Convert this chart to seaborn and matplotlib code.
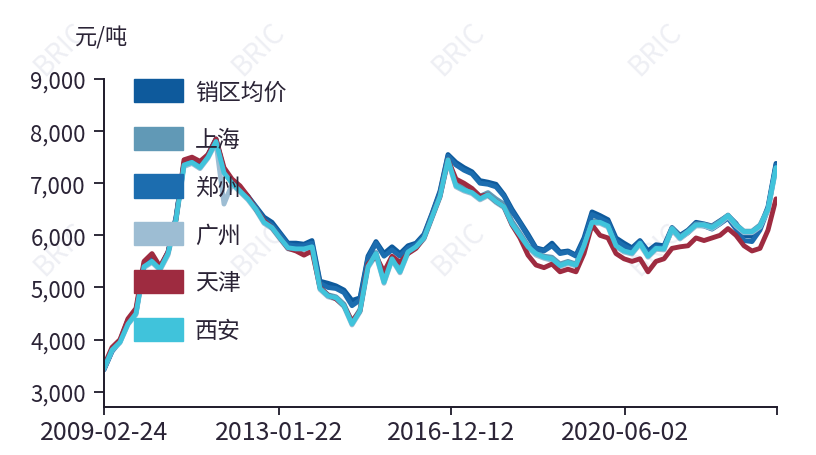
import numpy as np
import pandas as pd
import matplotlib
matplotlib.use("Agg")
import matplotlib.pyplot as plt
from matplotlib.patches import Patch
import seaborn as sns

# ---------------- data ----------------
series_names = ["销区均价", "上海", "郑州", "广州", "天津", "西安"]
tick_labels = ["2009-02-24", "2013-01-22", "2016-12-12", "2020-06-02", ""]
tick_positions = [0, 21.875, 43.375, 65.125, 84.125]

avg_sales = [3430, 3780, 3980, 4380, 4550, 5450, 5550, 5380, 5680, 6350,
             7400, 7450, 7350, 7550, 7850, 7250, 7050, 6900, 6750, 6550,
             6350, 6250, 6050, 5850, 5850, 5830, 5900, 5120, 5080, 5030,
             4950, 4750, 4800, 5600, 5880, 5650, 5780, 5650, 5800, 5850,
             6020, 6420, 6850, 7550, 7400, 7300, 7220, 7050, 7020, 6980,
             6780, 6500, 6260, 6020, 5760, 5720, 5850, 5680, 5700, 5620,
             5950, 6450, 6380, 6300, 5950, 5850, 5760, 5900, 5700, 5820,
             5800, 6150, 6000, 6100, 6250, 6220, 6180, 6280, 6380, 6230,
             6000, 5980, 6150, 6550, 7380]
shanghai = [3460, 3820, 3970, 4320, 4520, 5420, 5520, 5370, 5660, 6320,
            7370, 7420, 7320, 7520, 7820, 7220, 7020, 6870, 6720, 6520,
            6270, 6170, 5970, 5780, 5760, 5760, 5800, 5000, 4860, 4820,
            4680, 4330, 4580, 5430, 5670, 5150, 5580, 5350, 5700, 5800,
            5970, 6370, 6770, 7480, 7000, 6920, 6880, 6750, 6820, 6700,
            6600, 6270, 6040, 5800, 5660, 5600, 5580, 5450, 5500, 5450,
            5820, 6280, 6280, 6200, 5820, 5720, 5680, 5870, 5620, 5770,
            5760, 6140, 5970, 6080, 6220, 6210, 6170, 6270, 6390, 6210,
            6080, 6080, 6200, 6520, 7320]
zhengzhou = [3420, 3770, 3960, 4350, 4520, 5420, 5520, 5360, 5660, 6330,
             7380, 7420, 7330, 7520, 7830, 7230, 7020, 6880, 6730, 6530,
             6300, 6200, 6020, 5820, 5800, 5800, 5850, 5080, 5000, 4980,
             4900, 4650, 4760, 5560, 5850, 5600, 5720, 5600, 5760, 5820,
             5990, 6400, 6820, 7520, 7350, 7250, 7180, 7000, 6980, 6930,
             6750, 6460, 6230, 5980, 5740, 5700, 5800, 5650, 5680, 5600,
             5900, 6400, 6330, 6250, 5900, 5800, 5720, 5880, 5650, 5780,
             5760, 6100, 5950, 6050, 6200, 6180, 6120, 6220, 6330, 6120,
             5900, 5880, 6100, 6500, 7350]
guangzhou = [3440, 3790, 3940, 4290, 4480, 5380, 5480, 5330, 5620, 6280,
             7320, 7380, 7280, 7480, 7780, 6600, 6980, 6830, 6680, 6480,
             6230, 6130, 5930, 5740, 5720, 5720, 5760, 4960, 4820, 4780,
             4630, 4280, 4530, 5380, 5620, 5080, 5530, 5280, 5660, 5760,
             5930, 6330, 6730, 7420, 6930, 6850, 6800, 6680, 6760, 6630,
             6530, 6200, 5980, 5760, 5620, 5560, 5520, 5400, 5460, 5410,
             5780, 6230, 6230, 6160, 5780, 5680, 5640, 5830, 5580, 5730,
             5720, 6110, 5930, 6050, 6180, 6180, 6130, 6230, 6360, 6180,
             6050, 6050, 6160, 6480, 7280]
tianjin = [3500, 3850, 4000, 4400, 4600, 5500, 5650, 5400, 5680, 6300,
           7450, 7500, 7420, 7550, 7850, 7300, 7080, 6950, 6750, 6500,
           6280, 6150, 5950, 5750, 5700, 5620, 5700, 5000, 4850, 4780,
           4650, 4350, 4550, 5450, 5600, 5300, 5600, 5480, 5650, 5750,
           5950, 6350, 6750, 7450, 7080, 7000, 6900, 6750, 6780, 6650,
           6550, 6200, 5950, 5620, 5430, 5380, 5450, 5300, 5350, 5300,
           5650, 6200, 6000, 5950, 5650, 5550, 5500, 5550, 5300, 5500,
           5550, 5750, 5780, 5800, 5950, 5900, 5950, 6000, 6130, 6000,
           5800, 5700, 5750, 6100, 6700]
xian = [3450, 3800, 3950, 4300, 4500, 5400, 5500, 5350, 5650, 6300,
        7350, 7400, 7300, 7500, 7800, 7200, 7000, 6850, 6700, 6500,
        6250, 6150, 5950, 5760, 5740, 5740, 5780, 4980, 4840, 4800,
        4650, 4300, 4550, 5400, 5650, 5100, 5550, 5300, 5680, 5780,
        5950, 6350, 6750, 7450, 6950, 6870, 6820, 6700, 6780, 6650,
        6550, 6220, 6000, 5780, 5650, 5580, 5550, 5420, 5480, 5430,
        5800, 6250, 6250, 6180, 5800, 5700, 5660, 5850, 5600, 5750,
        5740, 6130, 5950, 6070, 6200, 6200, 6150, 6250, 6380, 6200,
        6070, 6070, 6180, 6500, 7300]

colors = ["#0E5A9C", "#6199B6", "#1C6DAF", "#9DBDD3", "#9E2B40", "#40C3DB"]

values = [avg_sales, shanghai, zhengzhou, guangzhou, tianjin, xian]
frames = []
for name, vals in zip(series_names, values):
    frames.append(pd.DataFrame({"idx": np.arange(len(vals)), "price": vals, "series": name}))
df = pd.concat(frames, ignore_index=True)

# ---------------- style ----------------
sns.set_theme(style="white")
plt.rcParams["font.family"] = ["Noto Sans CJK SC", "DejaVu Sans"]
text_color = "#2B2436"

W, H = 816, 456
fig = plt.figure(figsize=(W / 100, H / 100), dpi=100)
ax = fig.add_axes([104 / W, 1 - 408 / H, (777 - 104) / W, (408 - 80) / H])
ax.set_facecolor("none")

# faint watermark behind everything
for wx in [60, 258, 458, 655]:
    for wy in [50, 250]:
        fig.text(wx / W, 1 - wy / H, "BRIC", rotation=45, ha="center", va="center",
                 fontsize=20, color="#EEEFF4", zorder=-1)

sns.lineplot(data=df, x="idx", y="price", hue="series", hue_order=series_names,
             palette=dict(zip(series_names, colors)), linewidth=3.5, legend=False,
             sort=False, ax=ax, estimator=None)

ax.set_xlim(0, 84.125)
ax.set_ylim(2706, 9000)
ax.set_yticks([3000, 4000, 5000, 6000, 7000, 8000, 9000])
ax.set_yticklabels([f"{v:,}" for v in [3000, 4000, 5000, 6000, 7000, 8000, 9000]])
ax.set_xticks(tick_positions)
ax.set_xticklabels(tick_labels)
ax.set_xlabel("")
ax.set_ylabel("")

for side in ["top", "right"]:
    ax.spines[side].set_visible(False)
for side in ["left", "bottom"]:
    ax.spines[side].set_color("#1E1A2A")
    ax.spines[side].set_linewidth(1.4)

ax.tick_params(axis="y", which="major", left=True, length=7, width=1.3, color="#1E1A2A",
               labelsize=16, labelcolor=text_color, pad=6)
ax.tick_params(axis="x", which="major", bottom=True, length=6, width=1.3, color="#1E1A2A",
               labelsize=18, labelcolor=text_color, pad=3)

fig.text(75 / W, 1 - 38 / H, "元/吨", ha="left", va="center", fontsize=16, color=text_color)

handles = [Patch(facecolor=c, edgecolor=c, label=n) for n, c in zip(series_names, colors)]
fs = 16.5
fs_px = fs * 100 / 72
leg = ax.legend(handles=handles, loc="upper left",
                bbox_to_anchor=(134 / W, 1 - 80 / H), bbox_transform=fig.transFigure,
                frameon=False, fontsize=fs, borderpad=0, borderaxespad=0,
                handlelength=49 / fs_px, handleheight=27 / fs_px,
                handletextpad=12 / fs_px, labelspacing=1.02)
for t in leg.get_texts():
    t.set_color(text_color)
leg.set_zorder(5)

fig.savefig("out.png", dpi=100)
